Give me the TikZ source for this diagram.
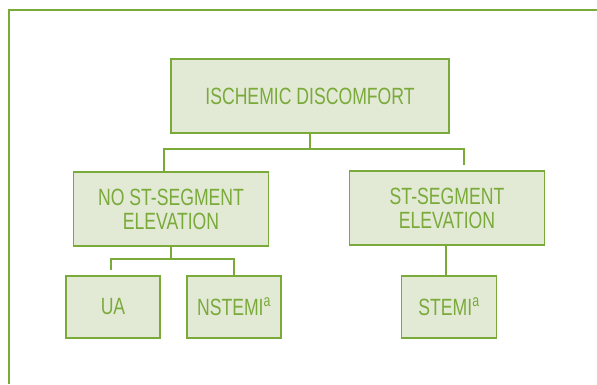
\documentclass[tikz,border=0pt]{standalone}
\usepackage{fontspec}
\setmainfont{Liberation Sans}[FakeStretch=0.75]
\usepackage{tikz}
\usetikzlibrary{positioning,calc}
\usepackage{xcolor}
\definecolor{leafgreen}{RGB}{122,170,58}
\definecolor{palegreen}{RGB}{226,234,213}

\begin{document}
\begin{tikzpicture}[x=1pt, y=-1pt,
    box/.style={draw=leafgreen, line width=1.6pt, fill=palegreen, text=leafgreen,
        inner sep=0pt, align=center, font=\fontsize{23.5}{24}\selectfont},
    link/.style={draw=leafgreen, line width=1.6pt},
    frame/.style={draw=leafgreen, line width=1.8pt}]
    \useasboundingbox (0,0) rectangle (597,384);

    % Outer frame (open to the right and bottom)
    \draw[frame] (597,10) -- (9,10) -- (9,384);

    % Top level
    \node[box, minimum width=278pt, minimum height=74pt] (disc) at (310,96) {ISCHEMIC DISCOMFORT};

    % Second level
    \node[box, minimum width=195pt, minimum height=74pt] (noste) at (171,209) {NO ST-SEGMENT\\ELEVATION};
    \node[box, minimum width=195pt, minimum height=74pt] (ste) at (447,208) {ST-SEGMENT\\ELEVATION};

    % Third level
    \node[box, minimum width=94pt, minimum height=62pt] (ua) at (113,307) {UA};
    \node[box, minimum width=94pt, minimum height=62pt] (nstemi) at (234,307) {NSTEMI\textsuperscript{a}};
    \node[box, minimum width=95pt, minimum height=62pt] (stemi) at (449,307) {STEMI\textsuperscript{a}};

    % Connectors from the top box
    \coordinate (ljoin) at (164,149);
    \coordinate (rjoin) at (464,149);
    \coordinate (rend) at (464,165);
    \draw[link] (disc.south) -- (disc.south |- ljoin);
    \draw[link] (ljoin |- noste.north) -- (ljoin) -- (rjoin) -- (rend);

    % Connectors below NO ST-SEGMENT ELEVATION
    \coordinate (uajoin) at (111,259);
    \coordinate (uaend) at (111,270);
    \draw[link] (noste.south) -- (noste.south |- uajoin);
    \draw[link] (uaend) -- (uajoin) -- (nstemi.north |- uajoin) -- (nstemi.north);

    % Connector below ST-SEGMENT ELEVATION
    \coordinate (sjoin) at (446,260);
    \draw[link] (ste.south -| sjoin) -- (sjoin |- stemi.north);
\end{tikzpicture}
\end{document}
